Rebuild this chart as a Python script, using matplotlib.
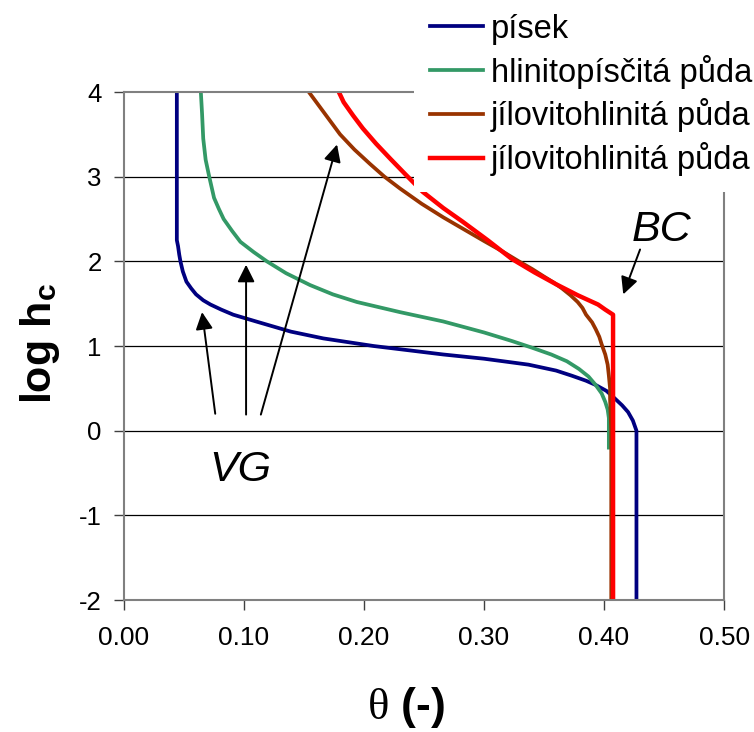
import matplotlib
matplotlib.use("Agg")
import matplotlib.pyplot as plt  # noqa: E402

plt.rcParams["font.family"] = ["Liberation Sans", "DejaVu Sans"]
plt.rcParams["mathtext.fontset"] = "custom"
plt.rcParams["mathtext.rm"] = "Liberation Serif"
plt.rcParams["mathtext.it"] = "Liberation Serif"
plt.rcParams["mathtext.bf"] = "Liberation Sans:bold"
plt.rcParams["axes.unicode_minus"] = False

# retention curves: theta (-) vs log h_c
labels = ["písek", "hlinitopísčitá půda", "jílovitohlinitá půda",
          "jílovitohlinitá půda"]
colors = ["#000080", "#339966", "#993300", "#ff0000"]
widths = [2.7, 2.7, 2.7, 3.2]

sand_theta = [0.044, 0.044, 0.045, 0.046, 0.047, 0.049, 0.052, 0.056, 0.060,
              0.066, 0.072, 0.081, 0.091, 0.110, 0.139, 0.166, 0.208, 0.266,
              0.300, 0.337, 0.360, 0.373, 0.385, 0.393, 0.402, 0.409, 0.415,
              0.420, 0.424, 0.426, 0.427, 0.427]
sand_logh = [4.0, 2.25, 2.18, 2.08, 2.0, 1.88, 1.76, 1.68, 1.61,
             1.54, 1.49, 1.43, 1.37, 1.29, 1.17, 1.09, 1.0, 0.90,
             0.85, 0.78, 0.71, 0.65, 0.59, 0.54, 0.47, 0.38, 0.30,
             0.22, 0.12, 0.04, 0.0, -2.0]

loamy_theta = [0.064, 0.065, 0.066, 0.068, 0.071, 0.075, 0.079, 0.083, 0.090,
               0.097, 0.108, 0.119, 0.135, 0.155, 0.174, 0.194, 0.230, 0.266,
               0.300, 0.323, 0.340, 0.356, 0.369, 0.379, 0.387, 0.393, 0.398,
               0.401, 0.403, 0.404, 0.404]
loamy_logh = [4.0, 3.75, 3.45, 3.2, 3.0, 2.75, 2.62, 2.5, 2.36,
              2.23, 2.11, 2.0, 1.86, 1.72, 1.61, 1.52, 1.40, 1.29,
              1.16, 1.06, 0.98, 0.90, 0.82, 0.73, 0.64, 0.54, 0.44,
              0.34, 0.25, 0.15, -0.2]

clay_vg_theta = [0.154, 0.167, 0.180, 0.192, 0.205, 0.217, 0.230, 0.248,
                 0.266, 0.283, 0.300, 0.315, 0.329, 0.340, 0.350, 0.358,
                 0.365, 0.372, 0.378, 0.382, 0.385, 0.390, 0.393, 0.396,
                 0.398, 0.401, 0.403, 0.404, 0.405, 0.405, 0.406, 0.406]
clay_vg_logh = [4.0, 3.75, 3.5, 3.32, 3.15, 3.0, 2.86, 2.68,
                2.52, 2.38, 2.24, 2.12, 2.0, 1.91, 1.82, 1.75,
                1.68, 1.60, 1.52, 1.45, 1.37, 1.28, 1.2, 1.11,
                1.02, 0.90, 0.78, 0.65, 0.5, 0.38, 0.0, -2.0]

clay_bc_theta = [0.179, 0.183, 0.191, 0.199, 0.210, 0.222, 0.235, 0.249,
                 0.266, 0.282, 0.303, 0.323, 0.342, 0.360, 0.378, 0.395,
                 0.401, 0.4075, 0.4075]
clay_bc_logh = [4.0, 3.88, 3.72, 3.57, 3.39, 3.21, 3.02, 2.82,
                2.63, 2.47, 2.25, 2.03, 1.87, 1.73, 1.60, 1.49,
                1.43, 1.37, -2.0]

series = [(sand_theta, sand_logh), (loamy_theta, loamy_logh),
          (clay_vg_theta, clay_vg_logh), (clay_bc_theta, clay_bc_logh)]

x_ticks = [0.0, 0.1, 0.2, 0.3, 0.4, 0.5]
y_ticks = [-2, -1, 0, 1, 2, 3, 4]

# VG arrows (tail -> head) and the BC arrow
vg_arrows = [((0.076, 0.20), (0.065, 1.40)),
             ((0.1017, 0.19), (0.1017, 1.96)),
             ((0.114, 0.19), (0.1775, 3.38))]
bc_arrow = ((0.430, 2.14), (0.416, 1.61))

fig = plt.figure(figsize=(7.54, 7.32), dpi=100)
ax = fig.add_axes([0.1645, 0.1803, 0.7958, 0.694])

for (th, lh), lab, col, lw in zip(series, labels, colors, widths):
    ax.plot(th, lh, color=col, lw=lw, label=lab, solid_joinstyle="round")

ax.set_xlim(0, 0.5)
ax.set_ylim(-2, 4)
ax.set_xticks(x_ticks)
ax.set_yticks(y_ticks)
ax.set_xticklabels(["{:.2f}".format(v) for v in x_ticks])
ax.set_yticklabels([str(v) for v in y_ticks])
ax.tick_params(direction="out", length=7, width=1, color="#404040")
ax.tick_params(axis="x", labelsize=19, pad=12)
ax.tick_params(axis="y", labelsize=18.5, pad=9)
for s in ax.spines.values():
    s.set_color("#808080")
    s.set_linewidth(1.5)
for v in y_ticks[1:-1]:
    ax.axhline(v, color="black", lw=0.9, zorder=0.5)

for tail, head in vg_arrows + [bc_arrow]:
    ax.annotate("", xy=head, xytext=tail,
                arrowprops=dict(arrowstyle="-|>", color="black", lw=1.4,
                                mutation_scale=26, shrinkA=0, shrinkB=0))
ax.text(0.0967, -0.46, "VG", fontsize=31, style="italic",
        ha="center", va="center")
ax.text(0.448, 2.37, "BC", fontsize=31, style="italic",
        ha="center", va="center")

fig.text(40 / 754, 1 - 344 / 732, r"log h$_{\mathbf{c}}$", fontsize=31,
         fontweight="bold", rotation=90, ha="center", va="center")
fig.text(406 / 754, 1 - 707 / 732, r"$\mathrm{\theta}$ (-)", fontsize=32,
         fontweight="bold", ha="center", va="center")

fig.legend(loc="upper left", bbox_to_anchor=(414 / 754, 1.0035),
           fontsize=23.5, frameon=True, facecolor="white", edgecolor="none",
           framealpha=1, fancybox=False, borderpad=0.5, labelspacing=0.3,
           handlelength=1.6, handletextpad=0.25, borderaxespad=0)

fig.savefig("out.png", dpi=100)
